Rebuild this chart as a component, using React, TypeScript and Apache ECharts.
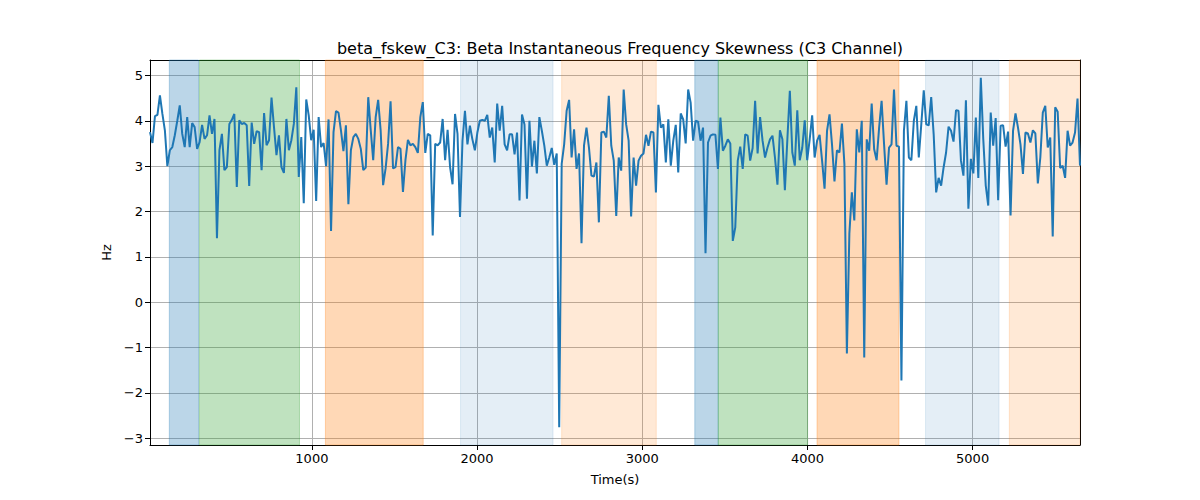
import * as echarts from "echarts";
import { useEffect, useRef } from "react";

// time range of the recording (s)
const tStart = 20;
const tEnd = 5650;

// beta frequency skewness, read left to right (evenly sampled)
const skewValues = [
  3.75, 3.51, 4.1, 4.13, 4.56, 4.15, 3.79, 3.0, 3.35, 3.42, 3.68, 4.0, 4.34, 3.71, 3.42, 4.08,
  3.42, 3.95, 3.86, 3.38, 3.53, 3.91, 3.6, 3.68, 4.12, 3.71, 4.04, 1.41, 3.35, 3.71, 2.91, 2.98,
  3.93, 4.02, 4.15, 2.54, 4.01, 3.93, 3.95, 3.9, 2.56, 3.96, 3.49, 3.77, 3.75, 2.91, 4.17, 3.46,
  3.57, 4.51, 3.86, 3.24, 3.68, 2.98, 2.85, 4.04, 3.35, 3.57, 3.93, 4.74, 2.76, 3.64, 2.18,
  4.47, 4.12, 3.57, 3.8, 2.23, 4.08, 3.42, 3.51, 3.0, 4.03, 1.57, 3.75, 4.21, 4.18, 3.79, 3.33,
  3.9, 2.16, 3.35, 3.64, 3.71, 3.6, 3.38, 2.91, 2.97, 4.52, 3.8, 3.13, 4.08, 4.46, 3.79, 2.58,
  2.95, 3.49, 4.43, 2.95, 2.98, 3.42, 3.38, 2.43, 3.13, 3.58, 3.46, 3.49, 3.42, 3.29, 4.08, 4.41,
  3.29, 3.71, 3.68, 1.47, 3.49, 3.46, 3.52, 4.04, 3.13, 3.8, 2.98, 2.6, 4.15, 3.71, 1.88,
  3.56, 4.22, 3.48, 3.89, 3.59, 3.35, 3.74, 4.0, 4.02, 4.0, 4.13, 3.63, 3.85, 3.08, 4.38, 3.78,
  4.33, 3.48, 3.35, 3.7, 3.7, 3.26, 3.74, 2.24, 4.14, 3.92, 2.28, 4.0, 2.99, 3.56, 2.84, 4.08,
  3.78, 3.45, 3.01, 3.19, 3.4, 3.03, 3.28, -2.76, 3.05, 3.48, 4.22, 4.46, 3.19, 3.81, 2.94, 3.28,
  1.3, 3.45, 3.85, 3.41, 2.79, 2.77, 3.08, 1.76, 3.74, 3.76, 3.63, 4.55, 3.45, 3.12, 1.9,
  3.19, 2.9, 4.69, 3.92, 3.56, 1.89, 3.19, 2.57, 3.12, 3.23, 3.28, 3.69, 3.45, 3.76, 3.74, 2.42,
  4.35, 3.85, 3.92, 3.08, 4.03, 3.01, 3.56, 3.91, 2.86, 4.16, 4.03, 3.5, 4.69, 4.4, 3.56, 4.0,
  3.98, 3.56, 3.85, 1.08, 3.52, 3.67, 3.7, 3.69, 2.94, 4.07, 3.34, 3.45, 3.59, 3.5, 1.35, 1.65,
  3.12, 3.43, 2.94, 3.7, 3.67, 3.12, 3.4, 4.44, 3.28, 4.08, 3.56, 3.19, 3.41, 3.59, 3.67,
  3.19, 2.59, 3.79, 3.59, 2.47, 3.59, 4.66, 3.3, 3.01, 4.23, 3.13, 3.4, 4.01, 3.13, 3.59, 4.12,
  3.19, 3.56, 3.69, 3.12, 2.5, 3.78, 4.14, 3.48, 2.66, 3.35, 3.3, 3.94, 3.05, -1.13, 1.51, 2.42,
  1.8, 3.81, 3.3, 4.0, -1.22, 3.59, 3.34, 4.38, 3.37, 3.13, 3.85, 4.44, 3.48, 2.59, 3.41, 3.48,
  4.69, 3.45, 3.43, -1.73, 3.78, 4.44, 3.19, 3.13, 4.0, 4.33, 3.19, 3.92, 4.67, 3.92, 3.9,
  4.52, 3.7, 2.42, 2.74, 2.57, 2.97, 3.3, 3.87, 3.78, 3.54, 4.23, 4.22, 3.12, 2.79, 4.45, 2.06,
  3.16, 2.84, 4.07, 2.74, 4.95, 3.59, 2.57, 2.13, 4.18, 3.45, 4.06, 2.25, 3.89, 3.9, 3.43, 3.76,
  1.91, 3.78, 4.16, 3.85, 3.48, 2.83, 3.74, 3.72, 3.52, 3.79, 3.72, 2.62, 3.19, 4.18, 4.33, 3.41,
  3.63, 1.45, 4.3, 4.2, 2.96, 3.01, 2.74, 3.78, 3.45, 3.52, 3.74, 4.49, 3.01,
];

// shaded state segments
const bandStart = [137, 319, 1082, 1900, 2512, 3318, 3460, 4058, 4715, 5222];
const bandEnd = [314, 925, 1674, 2460, 3085, 3460, 4001, 4554, 5160, 5650];
const bandColor = [
  "rgba(31,119,180,0.3)",
  "rgba(44,160,44,0.3)",
  "rgba(255,127,14,0.3)",
  "rgba(31,119,180,0.12)",
  "rgba(255,127,14,0.17)",
  "rgba(31,119,180,0.3)",
  "rgba(44,160,44,0.3)",
  "rgba(255,127,14,0.3)",
  "rgba(31,119,180,0.12)",
  "rgba(255,127,14,0.17)",
];

const xTicks = [1000, 2000, 3000, 4000, 5000];
const yTicks = [-3, -2, -1, 0, 1, 2, 3, 4, 5];
const yMin = -3.15;
const yMax = 5.34;

const font = "DejaVu Sans";

// matplotlib style tick text: no grouping, real minus sign
const tickText = (v: number) => String(v).replace("-", "\u2212");

export default function App() {
  const chartRef = useRef<HTMLDivElement | null>(null);

  useEffect(() => {
    document.body.style.margin = "0";
    if (!chartRef.current) return;
    const chart = echarts.init(chartRef.current, null, { renderer: "svg" });

    const step = (tEnd - tStart) / (skewValues.length - 1);
    const points = skewValues.map((v, i) => [tStart + i * step, v]);

    const bands = bandStart.map((s, i) => [
      {
        xAxis: s,
        itemStyle: { color: bandColor[i], borderColor: bandColor[i], borderWidth: 1 },
      },
      { xAxis: bandEnd[i] },
    ]);

    const frameAxis = {
      type: "value",
      min: 0,
      max: 1,
      axisLine: { show: true, onZero: false, lineStyle: { color: "#000", width: 1 } },
      axisTick: { show: false },
      axisLabel: { show: false },
      splitLine: { show: false },
    };

    chart.setOption({
      animation: false,
      textStyle: { fontFamily: font },
      title: {
        text: "beta_fskew_C3: Beta Instantaneous Frequency Skewness (C3 Channel)",
        left: 615,
        textAlign: "center",
        top: 35,
        textStyle: { fontFamily: font, fontSize: 16, fontWeight: "normal", color: "#000" },
      },
      grid: { left: 150, right: 120, top: 60, bottom: 55 },
      xAxis: [
        {
          type: "value",
          min: tStart,
          max: tEnd,
          name: "Time(s)",
          nameLocation: "middle",
          nameGap: 28,
          nameTextStyle: { fontFamily: font, fontSize: 13, color: "#000" },
          axisLine: { show: true, onZero: false, lineStyle: { color: "#000", width: 1 } },
          axisTick: { show: true, customValues: xTicks, length: 5, lineStyle: { color: "#000" } },
          axisLabel: {
            customValues: xTicks,
            formatter: tickText,
            fontFamily: font,
            fontSize: 13,
            color: "#000",
            margin: 7,
          },
          splitLine: { show: true, lineStyle: { color: "#b0b0b0", width: 1 } },
        },
        { ...frameAxis, position: "top" },
      ],
      yAxis: [
        {
          type: "value",
          min: yMin,
          max: yMax,
          name: "Hz",
          nameLocation: "middle",
          nameGap: 36,
          nameRotate: 90,
          nameTextStyle: { fontFamily: font, fontSize: 13, color: "#000" },
          axisLine: { show: true, onZero: false, lineStyle: { color: "#000", width: 1 } },
          axisTick: { show: true, customValues: yTicks, length: 5, lineStyle: { color: "#000" } },
          axisLabel: {
            customValues: yTicks,
            formatter: tickText,
            fontFamily: font,
            fontSize: 13,
            color: "#000",
            margin: 7,
          },
          splitLine: { show: true, lineStyle: { color: "#b0b0b0", width: 1 } },
        },
        { ...frameAxis, position: "right" },
      ],
      series: [
        {
          type: "line",
          xAxisIndex: 0,
          yAxisIndex: 0,
          data: points,
          showSymbol: false,
          lineStyle: { color: "#1f77b4", width: 2 },
          markArea: { silent: true, data: bands },
          z: 3,
        },
      ],
    });

    return () => chart.dispose();
  }, []);

  return <div ref={chartRef} style={{ width: 1200, height: 500 }} />;
}
